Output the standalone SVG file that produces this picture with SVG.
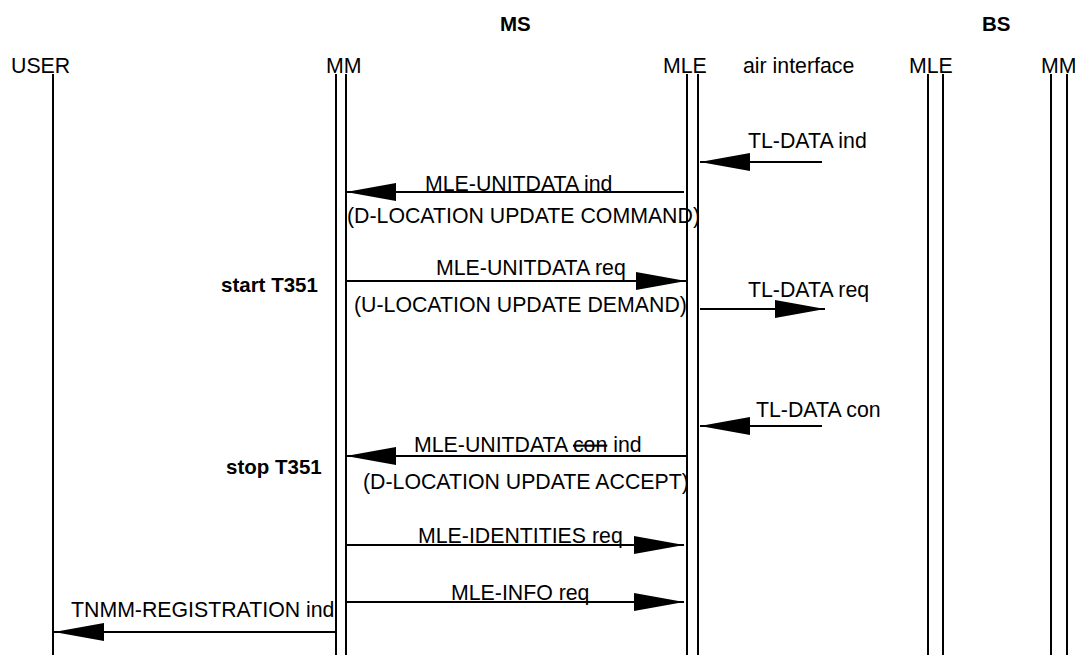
<svg xmlns="http://www.w3.org/2000/svg" width="1075" height="655" viewBox="0 0 1075 655">
<style>
text{font-family:"Liberation Sans",Arial,sans-serif;font-size:21.3px;fill:#000}
.b{font-weight:bold;font-size:20.5px}
.life{stroke:#000;stroke-width:2;fill:none}
.msg{stroke:#000;stroke-width:2;fill:none}
</style>
<defs>
<marker id="ah" markerUnits="userSpaceOnUse" viewBox="0 0 50 18" refX="50" refY="9" markerWidth="50" markerHeight="18" orient="auto">
<path d="M0,0 L50,9 L0,18 Z" fill="#000"/>
</marker>
</defs>
<rect width="1075" height="655" fill="#fff"/>
<g id="headers">
<text class="b" x="500" y="31">MS</text>
<text class="b" x="982" y="31">BS</text>
<text x="743" y="73">air interface</text>
</g>
<g id="user">
<text x="11" y="73">USER</text>
<line class="life" x1="53" y1="74" x2="53" y2="655"/>
</g>
<g id="ms-mm">
<text x="326" y="73">MM</text>
<line class="life" x1="336" y1="74" x2="336" y2="655"/>
<line class="life" x1="346" y1="74" x2="346" y2="655"/>
</g>
<g id="ms-mle">
<text x="663" y="73">MLE</text>
<line class="life" x1="687" y1="74" x2="687" y2="655"/>
<line class="life" x1="698" y1="74" x2="698" y2="655"/>
</g>
<g id="bs-mle">
<text x="909" y="73">MLE</text>
<line class="life" x1="928" y1="74" x2="928" y2="655"/>
<line class="life" x1="943" y1="74" x2="943" y2="655"/>
</g>
<g id="bs-mm">
<text x="1041" y="73">MM</text>
<line class="life" x1="1051" y1="74" x2="1051" y2="655"/>
<line class="life" x1="1067" y1="74" x2="1067" y2="655"/>
</g>
<g id="timers">
<text class="b" x="221" y="292">start T351</text>
<text class="b" x="226" y="474">stop T351</text>
</g>
<g id="connectors">
<line class="msg" x1="822" y1="162" x2="700" y2="162" marker-end="url(#ah)"/>
<line class="msg" x1="684" y1="192" x2="346" y2="192" marker-end="url(#ah)"/>
<line class="msg" x1="346" y1="281" x2="686" y2="281" marker-end="url(#ah)"/>
<line class="msg" x1="700" y1="309" x2="825" y2="309" marker-end="url(#ah)"/>
<line class="msg" x1="822" y1="426" x2="700" y2="426" marker-end="url(#ah)"/>
<line class="msg" x1="686" y1="456" x2="346" y2="456" marker-end="url(#ah)"/>
<line class="msg" x1="346" y1="545" x2="684" y2="545" marker-end="url(#ah)"/>
<line class="msg" x1="346" y1="602" x2="684" y2="602" marker-end="url(#ah)"/>
<line class="msg" x1="336" y1="632" x2="54" y2="632" marker-end="url(#ah)"/>
</g>
<g id="labels">
<text x="748" y="148">TL-DATA ind</text>
<text x="425" y="191">MLE-UNITDATA ind</text>
<text x="347" y="223">(D-LOCATION UPDATE COMMAND)</text>
<text x="436" y="275">MLE-UNITDATA req</text>
<text x="354" y="312">(U-LOCATION UPDATE DEMAND)</text>
<text x="748" y="297">TL-DATA req</text>
<text x="756" y="417">TL-DATA con</text>
<text x="414" y="452">MLE-UNITDATA <tspan text-decoration="line-through">con</tspan> ind</text>
<text x="363" y="489">(D-LOCATION UPDATE ACCEPT)</text>
<text x="418" y="543">MLE-IDENTITIES req</text>
<text x="451" y="600">MLE-INFO req</text>
<text x="71" y="617">TNMM-REGISTRATION ind</text>
</g>
</svg>
